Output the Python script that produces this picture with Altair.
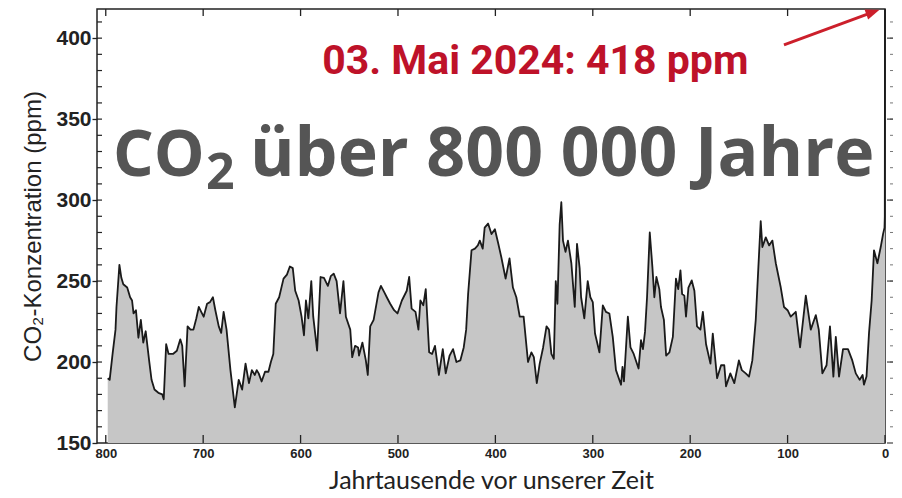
import altair as alt
import pandas as pd

# ---------------- data ----------------
kyr = [798, 796, 793, 790, 789, 786, 784, 782, 778, 775, 773, 771.5, 769, 766.5, 764, 761.5, 759,
       755.5, 753, 750, 746, 742, 740.5, 738, 735.5, 731, 727, 723.5, 721.5, 719, 716, 713, 710,
       707, 704.5, 702, 699.5, 696, 693, 690, 687.5, 684, 681.5, 679, 676, 672, 667.5, 663.5, 660,
       656.5, 653, 650, 647, 645, 643, 640, 636.5, 633, 630.5, 628, 625.5, 622, 617.5, 614, 611,
       608, 605.5, 602, 599, 596.5, 594.5, 592, 589, 587, 583, 579.5, 576, 572, 569, 566, 563,
       559.5, 556, 553.5, 549, 547, 544, 541, 540, 536.5, 533, 531, 528.5, 525, 520, 517.5, 514,
       511.5, 508, 504, 500.5, 496, 491, 488.5, 486, 482, 479, 477, 474, 471.5, 468, 465, 462,
       458, 454, 451, 447, 443.5, 440, 436, 432.5, 430, 428, 424.5, 421, 418, 416, 413, 411,
       407.5, 404, 400.5, 397, 394, 389.5, 385.5, 382, 378.5, 375, 371, 366.5, 363, 360.5, 357.5,
       354.5, 351, 347.5, 345, 342.5, 340, 338, 336.3, 334, 332.3, 330.6, 328, 325.5, 322, 318.5,
       316.2, 313.5, 312, 308.7, 305.2, 302.5, 300, 297.7, 293.2, 289.7, 286.5, 283, 279.5, 276.2,
       271, 269.5, 268, 264, 261.3, 258, 253, 250.5, 248.5, 246.4, 244.3, 241.5, 238.8, 236.8,
       234.7, 231.7, 230, 227, 224.7, 221.3, 217.8, 214.6, 212.3, 210, 208.3, 206, 204.3, 201.8,
       198.4, 195.7, 193, 189.5, 187, 183.7, 179.2, 176.8, 172.4, 168.3, 165, 163.2, 158.8, 154.7,
       150, 147, 143, 139.6, 136.2, 132.7, 130, 127.6, 125.9, 122.4, 119, 115.6, 112.1, 107, 103.7,
       100, 96.8, 91.6, 87.2, 81.3, 76.2, 71, 68, 64.3, 60, 56.5, 53, 50.5, 47.2, 43.1, 38, 33.6,
       30, 26, 23, 21.6, 19, 16.4, 13.7, 11.3, 7.8, 4.4, 2, 0.5, 0.2, 0]
ppm = [190, 189, 205, 220, 234, 260, 252, 248, 246, 240, 238, 230, 232, 215, 226, 212, 219,
       201, 189, 183, 181, 180, 177, 211, 205, 205, 207, 214, 210, 185, 222, 220, 220,
       227, 234, 231, 228, 236, 237, 240, 232, 222, 218, 231, 220, 195, 172, 189, 183,
       199, 187, 195, 192, 195, 193, 188, 194, 194, 200, 205, 236, 240, 251.5, 254, 259,
       258, 244, 238, 228, 216.5, 238, 227, 250, 228, 207, 252.5, 252, 247, 253, 254.6, 250,
       230, 250, 228, 220, 203, 210, 209, 204, 212, 201, 192, 222, 226, 243, 247, 243,
       240, 236, 232, 230, 238, 244, 252.5, 233, 231, 220, 238, 235, 245, 206, 205, 210,
       192, 208, 193, 204, 208, 200, 201, 209, 220, 242, 269, 270, 272, 275, 270, 283,
       285.5, 279, 282, 273, 265, 251.5, 264, 246, 240, 228, 228, 200, 206, 203, 187,
       199, 209, 222, 220, 205, 202, 250, 236, 285, 298.7, 275, 268, 275, 261, 234,
       273, 258, 240, 227, 250, 240, 237, 217.6, 206, 235, 231, 230, 215.5, 195,
       186, 197, 188, 228, 209, 205, 196, 213.5, 208, 218.6, 240, 280, 258.6, 240,
       252.5, 245, 234, 226, 204, 206, 215.5, 251.5, 245, 256.6, 242, 241, 228, 246,
       250.4, 244, 222, 220, 231, 211, 199, 217.6, 190, 198, 198, 185, 193, 187,
       201, 195, 193, 191, 201, 226, 258.6, 287, 271, 277, 272, 275, 261, 246, 234,
       232, 228, 231, 209, 241, 220, 229, 220, 193, 198, 222, 191, 215.5, 191, 208, 208, 201,
       193, 189, 192, 186, 191, 218, 238, 269, 261, 271, 279, 283, 290, 418]

x_ticks = [800, 700, 600, 500, 400, 300, 200, 100, 0]
y_labels = [150, 200, 250, 300, 350, 400]
y_minor = [160, 170, 180, 190, 200, 210, 220, 230, 240, 250, 260, 270, 280, 290, 300,
           310, 320, 330, 340, 350, 360, 370, 380, 390, 400, 410]

title_main = "CO"
title_sub = "2"
title_rest = "über 800 000 Jahre"
note_text = "03. Mai 2024: 418 ppm"
x_title = "Jahrtausende vor unserer Zeit"
y_title = "CO₂-Konzentration (ppm)"

# ---------------- layout ----------------
W, H = 788, 434
xs = alt.Scale(domain=[0, 809], reverse=True, nice=False, zero=False)
ys = alt.Scale(domain=[150, 418], nice=False, zero=False)

RED = "#be1229"
GRAY = "#555555"
NARROW = "Liberation Sans Narrow, Arial Narrow, Liberation Sans, Arial"

X_AXIS = alt.Axis(
    values=x_ticks, title=x_title, grid=False, domain=False, ticks=False,
    labelFont=NARROW, labelFontSize=13, labelFontWeight="bold", labelColor="#222",
    labelPadding=4, labelFlush=False,
    titleFont="Lato", titleFontSize=25, titleFontWeight="normal", titleColor="#222",
    titlePadding=8)
Y_AXIS = alt.Axis(
    values=y_labels, title=y_title, grid=False, domain=False,
    tickSize=5, tickColor="#222", tickWidth=1.3,
    labelFont=NARROW, labelFontSize=21, labelFontWeight="bold", labelColor="#222",
    labelPadding=1,
    titleFont="Liberation Sans", titleFontSize=24, titleFontWeight="normal",
    titleColor="#222", titlePadding=10)


def X(field):
    return alt.X(field, scale=xs, axis=X_AXIS, title=x_title)


def Y(field):
    return alt.Y(field, scale=ys, axis=Y_AXIS, title=y_title)


df = pd.DataFrame({"kyr": kyr, "ppm": ppm})

area = alt.Chart(df).mark_area(
    color="#c6c6c6", opacity=1,
    line={"color": "#1a1a1a", "strokeWidth": 1.8, "strokeJoin": "round"},
).encode(x=X("kyr:Q"), y=Y("ppm:Q"), y2=alt.datum(150))

xt = pd.DataFrame({"t": x_ticks})
bottom_ticks = alt.Chart(xt).mark_rule(color="#222", strokeWidth=1.3).encode(
    x=X("t:Q"), y=alt.value(H), y2=alt.value(H - 8))
top_ticks = alt.Chart(xt).mark_rule(color="#222", strokeWidth=1.3).encode(
    x=X("t:Q"), y=alt.value(0), y2=alt.value(7))

ym = pd.DataFrame({"v": y_minor})
left_ticks = alt.Chart(ym).mark_rule(color="#222", strokeWidth=1.2).encode(
    y=Y("v:Q"), x=alt.value(0), x2=alt.value(5))
right_minor = alt.Chart(ym).mark_rule(color="#777", strokeWidth=1).encode(
    y=Y("v:Q"), x=alt.value(W + 5), x2=alt.value(W + 8))
yl = pd.DataFrame({"v": y_labels})
right_major = alt.Chart(yl).mark_rule(color="#444", strokeWidth=1.2).encode(
    y=Y("v:Q"), x=alt.value(W + 2), x2=alt.value(W + 8))


def text_layer(x, y, s, size, color, font, align, weight="bold"):
    d = pd.DataFrame({"x": [x], "y": [y], "s": [s]})
    return alt.Chart(d).mark_text(
        align=align, baseline="alphabetic", fontSize=size, font=font,
        fontWeight=weight, color=color,
    ).encode(x=X("x:Q"), y=Y("y:Q"), text="s:N")


t1 = text_layer(792.6, 315, title_main, 64, GRAY, "Open Sans", "left")
t2 = text_layer(697, 307, title_sub, 50, GRAY, "Open Sans", "left")
t3 = text_layer(652, 315, title_rest, 68, GRAY, "Open Sans", "left")
note = text_layer(359, 378, note_text, 41, RED, "Roboto", "center")

arr = pd.DataFrame({"x": [103.7], "y": [395.8], "x2": [12.4], "y2": [416.1]})
arrow_line = alt.Chart(arr).mark_rule(color="#cc1f2b", strokeWidth=3).encode(
    x=X("x:Q"), y=Y("y:Q"), x2="x2:Q", y2="y2:Q")
arrow_head = alt.Chart(arr).mark_point(
    shape="M1,0L-1,-0.75L-1,0.75Z", size=196, angle=340, filled=True,
    color="#cc1f2b", opacity=1,
).encode(x=X("x2:Q"), y=Y("y2:Q"))

chart = alt.layer(
    area, bottom_ticks, top_ticks, left_ticks, right_minor, right_major,
    t1, t2, t3, note, arrow_line, arrow_head,
).properties(
    width=W, height=H,
    autosize=alt.AutoSizeParams(type="none"),
    padding={"left": 89, "top": 1, "right": 9, "bottom": 52},
    background="white",
).configure_view(stroke="#222", strokeWidth=1.5)

chart.save("out.html", embed_options={"renderer": "svg", "actions": False})
